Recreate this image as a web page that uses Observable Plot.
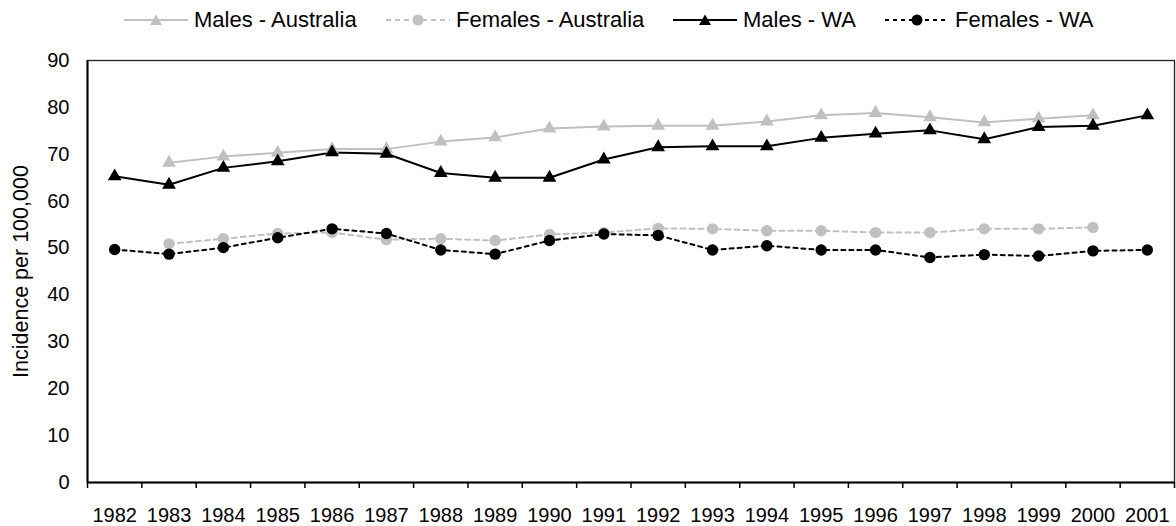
<!DOCTYPE html>
<html>
<head>
<meta charset="utf-8">
<script src="https://cdn.jsdelivr.net/npm/d3@7"></script>
<script src="https://cdn.jsdelivr.net/npm/@observablehq/plot@0.6"></script>
<style>
  html, body { margin: 0; padding: 0; background: #fff; }
  body { width: 1176px; height: 526px; overflow: hidden; font-family: "Liberation Sans", Arial, sans-serif; }
  #legend { position: relative; height: 40px; width: 1176px; }
  .item { position: absolute; top: 0; height: 40px; display: flex; align-items: center; font-size: 22px; color: #000; }
  .item svg { margin-right: 6px; }
  #chart svg { display: block; }
</style>
</head>
<body>
<div id="legend"></div>
<div id="chart"></div>
<script>
// ---- data ----
const years = [1982,1983,1984,1985,1986,1987,1988,1989,1990,1991,1992,1993,1994,1995,1996,1997,1998,1999,2000,2001];
const malesAustralia   = [null,68.2,69.5,70.3,71.1,71.1,72.7,73.6,75.5,75.9,76.1,76.1,77.0,78.3,78.8,77.9,76.8,77.6,78.3,null];
const femalesAustralia = [null,50.9,52.0,53.1,53.3,51.8,52.0,51.6,52.9,53.3,54.2,54.1,53.7,53.7,53.3,53.3,54.1,54.1,54.4,null];
const malesWA          = [65.3,63.5,67.1,68.5,70.4,70.1,66.0,65.0,65.0,68.9,71.5,71.7,71.7,73.5,74.4,75.1,73.2,75.8,76.1,78.3];
const femalesWA        = [49.7,48.7,50.1,52.2,54.1,53.1,49.6,48.7,51.6,53.0,52.7,49.6,50.5,49.6,49.6,48.0,48.6,48.3,49.4,49.6];
const yTicks = [0,10,20,30,40,50,60,70,80,90];
const seriesNames = ["Males - Australia","Females - Australia","Males - WA","Females - WA"];

const GRAY = "#C0C0C0", BLACK = "#000000";
const styles = [
  {name: seriesNames[0], values: malesAustralia,   color: GRAY,  dash: null,  symbol: "triangle"},
  {name: seriesNames[1], values: femalesAustralia, color: GRAY,  dash: "5,4", symbol: "circle"},
  {name: seriesNames[2], values: malesWA,          color: BLACK, dash: null,  symbol: "triangle"},
  {name: seriesNames[3], values: femalesWA,        color: BLACK, dash: "4,4", symbol: "circle"}
];

const tables = styles.map(s => years.map((yr, i) => ({year: yr, value: s.values[i], series: s.name})));
const bounds = [...years.map(y => y - 0.5), years[years.length - 1] + 0.5];

// ---- legend ----
const legend = document.getElementById("legend");
const lefts = [124, 386, 673, 885];
styles.forEach((s, i) => {
  const d = document.createElement("div");
  d.className = "item";
  d.style.left = lefts[i] + "px";
  const marker = s.symbol === "triangle"
    ? `<path d="M32,6.5 L38,17 L26,17 Z" fill="${s.color}"/>`
    : `<circle cx="32" cy="12" r="5.5" fill="${s.color}"/>`;
  d.innerHTML = `<svg width="64" height="24" viewBox="0 0 64 24">
    <line x1="0" x2="64" y1="12" y2="12" stroke="${s.color}" stroke-width="2" ${s.dash ? `stroke-dasharray="${s.dash}"` : ""}/>
    ${marker}</svg><span>${s.name}</span>`;
  legend.appendChild(d);
});

// ---- chart ----
const marks = [];
styles.forEach((s, i) => {
  marks.push(Plot.line(tables[i], {x: "year", y: "value", stroke: s.color, strokeWidth: 2, strokeDasharray: s.dash || undefined}));
});
styles.forEach((s, i) => {
  marks.push(Plot.dot(tables[i].filter(d => d.value != null), {
    x: "year", y: "value", fill: s.color, stroke: "none",
    symbol: s.symbol, r: s.symbol === "triangle" ? 5.1 : 5.7
  }));
});

const plot = Plot.plot({
  width: 1176,
  height: 486,
  marginTop: 20,
  marginBottom: 44,
  marginLeft: 87,
  marginRight: 2,
  style: {fontFamily: "'Liberation Sans', Arial, sans-serif", fontSize: "20px", color: "#000", background: "#fff"},
  x: {domain: [bounds[0], bounds[bounds.length - 1]]},
  y: {domain: [0, 90]},
  marks: [
    Plot.frame({stroke: "#222", strokeWidth: 1.3}),
    Plot.axisY(yTicks, {tickSize: 0, tickPadding: 18, fontSize: 20, label: null}),
    Plot.axisY([], {tickSize: 0, fontSize: 21.5, label: "Incidence per 100,000", labelAnchor: "center", labelOffset: 75, labelArrow: "none"}),
    Plot.axisX(bounds, {tickSize: 6, tickFormat: () => "", strokeWidth: 1.5, label: null}),
    Plot.axisX(years, {tickSize: 0, tickPadding: 25, tickFormat: d => String(d), fontSize: 20, label: null}),
    Plot.ruleX([bounds[0]], {stroke: "#000", strokeWidth: 2}),
    Plot.ruleY([0], {stroke: "#000", strokeWidth: 2}),
    ...marks
  ]
});
document.getElementById("chart").appendChild(plot);
</script>
</body>
</html>
